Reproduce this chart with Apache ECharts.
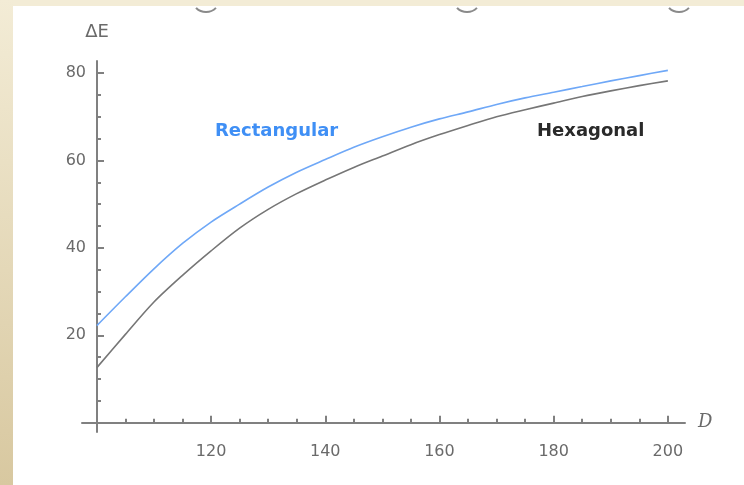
<!DOCTYPE html>
<html>
<head>
<meta charset="utf-8">
<script src="https://cdn.jsdelivr.net/npm/echarts@6/dist/echarts.min.js"></script>
<style>html,body{margin:0;padding:0;background:#fff;}#c{width:744px;height:485px;}</style>
</head>
<body>
<div id="c"></div>
<script>
const dValues = [100,105,110,115,120,125,130,135,140,145,150,155,160,165,170,175,180,185,190,195,200];
const rectangular = [22.2,28.8,35.2,41.0,45.9,50.0,53.9,57.3,60.2,63.0,65.4,67.6,69.5,71.1,72.8,74.3,75.6,76.9,78.2,79.4,80.6];
const hexagonal = [12.6,20.2,27.6,33.7,39.3,44.5,48.8,52.4,55.5,58.4,61.0,63.6,65.9,68.0,70.0,71.6,73.1,74.6,75.9,77.1,78.2];
const xMajorTicks = [120,140,160,180,200];
const xMinorTicks = [105,110,115,125,130,135,145,150,155,165,170,175,185,190,195];
const yMajorTicks = [20,40,60,80];
const yMinorTicks = [5,10,15,25,30,35,45,50,55,65,70,75];
const seriesNames = ['Rectangular','Hexagonal'];

const axisColor = '#808080';
const labelStyle = {color:'#6a6a6a', fontSize:16, fontFamily:'DejaVu Sans'};

const chart = echarts.init(document.getElementById('c'), null, {renderer:'canvas'});

function arc(cx){
  return {type:'arc', shape:{cx:cx, cy:-2, r:14, startAngle:0.78, endAngle:Math.PI-0.78},
          style:{stroke:'#8a8a8a', lineWidth:2, fill:null}, z:1};
}

chart.setOption({
  animation:false,
  backgroundColor:'#fff',
  graphic:[
    arc(206), arc(467), arc(679),
    {type:'rect', shape:{x:0,y:0,width:744,height:6}, style:{fill:'#f3ecd6'}, z:2},
    {type:'rect', shape:{x:0,y:0,width:13,height:485},
     style:{fill:new echarts.graphic.LinearGradient(0,0,0,1,[{offset:0,color:'#f3ecd6'},{offset:1,color:'#d8c8a0'}])}, z:2},
    {type:'text', left:215, top:122, style:{text:seriesNames[0], fill:'#3f8ff5', font:'bold 18px "DejaVu Sans"'}, z:5},
    {type:'text', left:537, top:122, style:{text:seriesNames[1], fill:'#2a2a2a', font:'bold 18px "DejaVu Sans"'}, z:5}
  ],
  grid:{left:82, top:61, width:603, height:371, containLabel:false},
  xAxis:[
    {type:'value', min:97.4, max:203, position:'bottom',
     axisLine:{show:true, onZero:true, lineStyle:{color:axisColor, width:2}},
     axisTick:{show:true, inside:true, length:4, customValues:xMinorTicks, lineStyle:{color:axisColor, width:2}},
     axisLabel:{show:true, customValues:xMajorTicks, margin:12, ...labelStyle},
     splitLine:{show:false},
     name:'D', nameLocation:'end', nameGap:13,
     nameTextStyle:{color:'#6a6a6a', fontSize:18, fontStyle:'italic', fontFamily:'DejaVu Serif', verticalAlign:'middle'}},
    {type:'value', min:97.4, max:203, position:'bottom',
     axisLine:{show:false, onZero:true},
     axisTick:{show:true, inside:true, length:7, customValues:xMajorTicks, lineStyle:{color:axisColor, width:2}},
     axisLabel:{show:false}, splitLine:{show:false}}
  ],
  yAxis:[
    {type:'value', min:-2.13, max:82.74, position:'left', offset:-15,
     axisLine:{show:true, onZero:false, lineStyle:{color:axisColor, width:2}},
     axisTick:{show:true, inside:true, length:4, customValues:yMinorTicks, lineStyle:{color:axisColor, width:2}},
     axisLabel:{show:true, customValues:yMajorTicks, margin:11, ...labelStyle},
     splitLine:{show:false},
     name:'ΔE', nameLocation:'end', nameGap:20,
     nameTextStyle:{color:'#6a6a6a', fontSize:18, fontFamily:'DejaVu Sans', align:'center'}},
    {type:'value', min:-2.13, max:82.74, position:'left', offset:-15,
     axisLine:{show:false, onZero:false},
     axisTick:{show:true, inside:true, length:7, customValues:yMajorTicks, lineStyle:{color:axisColor, width:2}},
     axisLabel:{show:false}, splitLine:{show:false}}
  ],
  series:[
    {name:seriesNames[0], type:'line', xAxisIndex:0, yAxisIndex:0, smooth:0.3, showSymbol:false,
     data:dValues.map((d,i)=>[d,rectangular[i]]),
     lineStyle:{color:'#6fa8f7', width:1.6}, itemStyle:{color:'#6fa8f7'}, z:3},
    {name:seriesNames[1], type:'line', xAxisIndex:0, yAxisIndex:0, smooth:0.3, showSymbol:false,
     data:dValues.map((d,i)=>[d,hexagonal[i]]),
     lineStyle:{color:'#767676', width:1.6}, itemStyle:{color:'#767676'}, z:3}
  ]
});
</script>
</body>
</html>
